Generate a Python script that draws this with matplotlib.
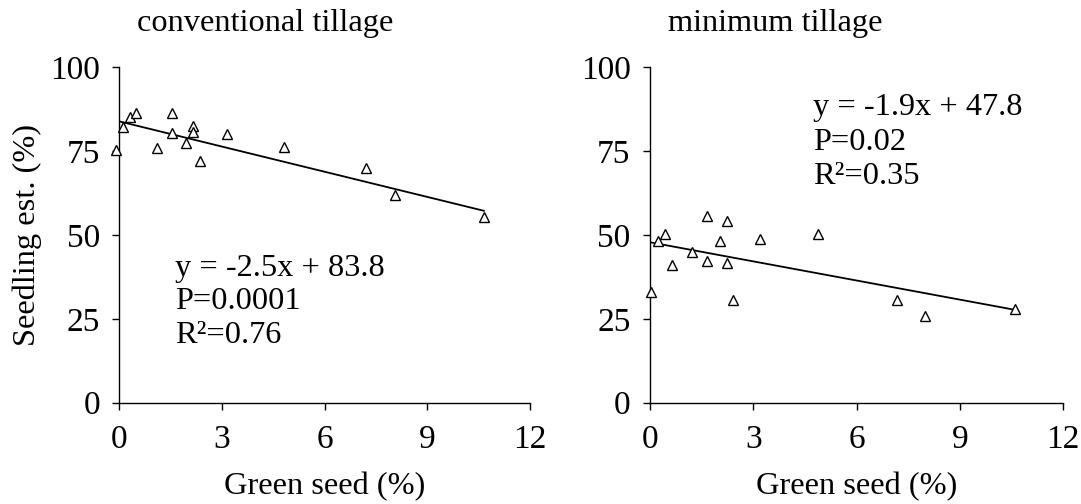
import numpy as np
import matplotlib.pyplot as plt

plt.rcParams['font.family'] = ['Liberation Serif', 'DejaVu Serif']

# Datos
x_conv = [-0.1, 0.1, 0.3, 0.5, 1.1, 1.55, 1.55, 1.95, 2.15, 2.15, 2.35, 3.15, 4.8, 7.2, 8.05, 10.65]
y_conv = [75.3, 82.0, 85.0, 86.2, 75.8, 86.2, 80.2, 77.5, 82.4, 80.7, 72.1, 80.0, 76.1, 70.0, 61.8, 55.3]

x_min = [0.03, 0.24, 0.44, 0.63, 1.21, 1.65, 1.65, 2.03, 2.23, 2.23, 2.42, 3.2, 4.87, 7.17, 7.99, 10.6]
y_min = [32.9, 48.3, 50.3, 40.9, 44.8, 55.7, 42.3, 48.3, 54.0, 41.5, 30.5, 48.8, 50.3, 30.5, 25.7, 28.0]

titles = ['conventional tillage', 'minimum tillage']
slopes = [-2.5, -1.9]
intercepts = [83.8, 47.8]
stats_text = [['y = -2.5x + 83.8', 'P=0.0001', 'R²=0.76'],
              ['y = -1.9x + 47.8', 'P=0.02', 'R²=0.35']]

fig = plt.figure(figsize=(10.81, 5.04), dpi=100)
ax1 = fig.add_axes([0.1104, 0.201, 0.3799, 0.666])
ax2 = fig.add_axes([0.6013, 0.201, 0.3823, 0.666])

# posiciones del texto (datos)
text_pos = [(1.63, [40.1, 30.2, 20.1]), (4.74, [87.8, 77.6, 67.4])]

for i, (ax, xs, ys) in enumerate([(ax1, x_conv, y_conv), (ax2, x_min, y_min)]):
    ax.plot(xs, ys, linestyle='none', marker='^', ms=7.5, mfc='white',
            mec='black', mew=1, clip_on=False, zorder=3)
    xl = np.array([min(xs), max(xs)])
    ax.plot(xl, slopes[i] * xl + intercepts[i], color='black', lw=1.3)

    ax.set_xlim(0, 12)
    ax.set_ylim(0, 100)
    ax.set_xticks([0, 3, 6, 9, 12])
    ax.set_yticks([0, 25, 50, 75, 100])
    ax.spines['top'].set_visible(False)
    ax.spines['right'].set_visible(False)
    ax.spines['left'].set_linewidth(1)
    ax.spines['bottom'].set_linewidth(1)
    ax.tick_params(direction='out', length=5, width=1, labelsize=24, pad=9)
    ax.tick_params(axis='x', pad=11)
    ax.set_xlabel('Green seed (%)', fontsize=23.3, labelpad=12)

    ax.text(0.043, 1.13, titles[i], transform=ax.transAxes, fontsize=23.3,
            ha='left', va='center')

    tx, tys = text_pos[i]
    for s, ty in zip(stats_text[i], tys):
        ax.text(tx, ty, s, fontsize=23.3, ha='left', va='center')

ax1.set_ylabel('Seedling est. (%)', fontsize=23.3, labelpad=6)

plt.savefig('out.png', dpi=100)
